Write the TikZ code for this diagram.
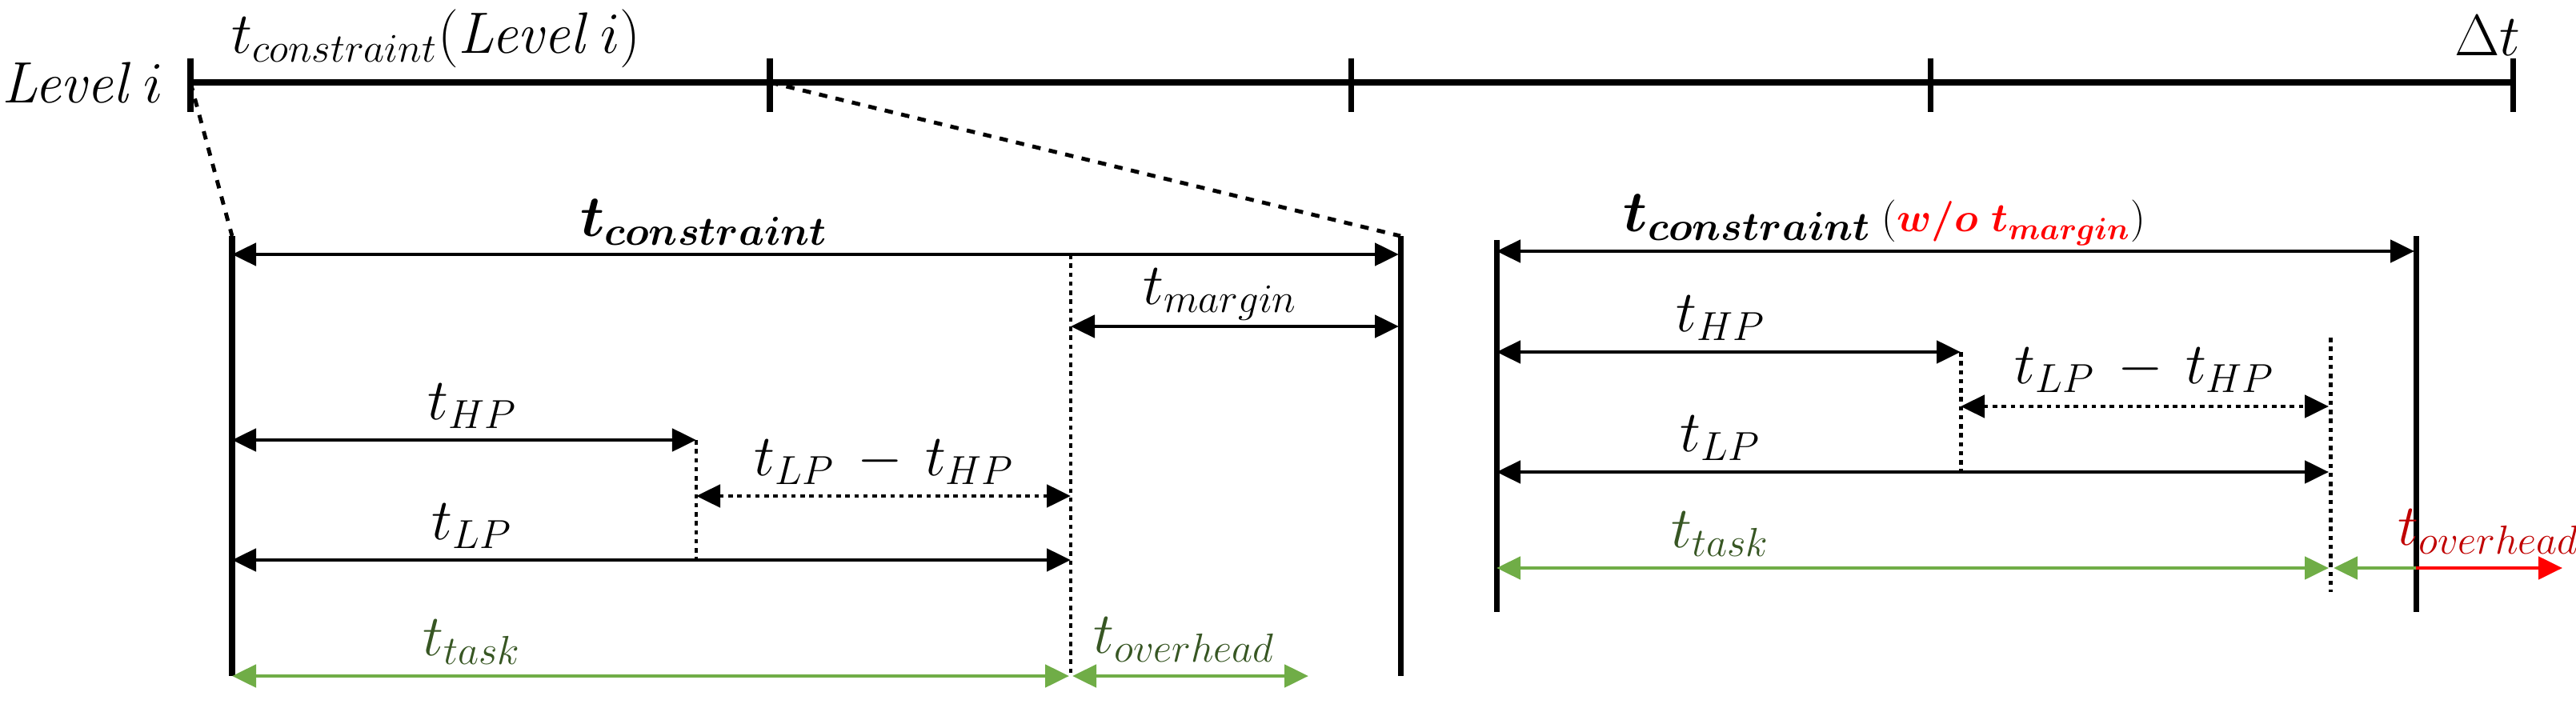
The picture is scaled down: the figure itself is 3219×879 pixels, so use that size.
\documentclass[tikz,border=0pt]{standalone}
\usepackage{amsmath,bm}
\usetikzlibrary{arrows.meta}
\definecolor{gr}{HTML}{70AD47}
\definecolor{dgr}{HTML}{375623}
\definecolor{dred}{HTML}{C00000}
\begin{document}
\begin{tikzpicture}[x=0.01cm,y=-0.01cm,
  bar/.style={line width=2pt},
  arr/.style={line width=1.4pt,{Triangle[length=0.3cm,width=0.28cm]}-{Triangle[length=0.3cm,width=0.28cm]}},
  rarr/.style={line width=1.4pt,-{Triangle[length=0.3cm,width=0.28cm]}},
  dot/.style={line width=1.4pt,dash pattern=on 1.6pt off 1.6pt},
  lbl/.style={font=\fontsize{22}{26}\selectfont},
  every node/.style={inner sep=0pt}]
\useasboundingbox (0,0) rectangle (3219,879);
% top timeline
\coordinate (t0) at (238,103); \coordinate (t1) at (962,103);
\coordinate (t2) at (1688,103); \coordinate (t3) at (2412,103);
\coordinate (t4) at (3140,103);
\draw[bar] (t0) -- (t4);
\foreach \x in {238,962,1688,2412,3140} \draw[bar] (\x,73) -- (\x,140);
\node[font=\fontsize{20}{24}\selectfont] (lv) at (103,103) {$\mathit{Level}\,i$};
\node[lbl] (tc) at (545,48) {$t_{constraint}(\mathit{Level}\,i)$};
\node[lbl,anchor=east] (dt) at (3150,45) {$\Delta t$};
% left group
\coordinate (La) at (290,295); \coordinate (Lab) at (290,845);
\coordinate (Lb) at (1750,295); \coordinate (Lbb) at (1750,845);
\draw[line width=1.4pt,dashed] (t0) -- (La);
\draw[line width=1.4pt,dashed] (t1) -- (Lb);
\draw[bar] (La) -- (Lab);
\draw[bar] (Lb) -- (Lbb);
\coordinate (Lm) at (1338,318); \coordinate (Lmb) at (1338,845);
\draw[dot] (Lm) -- (Lmb);
\coordinate (Lh) at (870,550); \coordinate (Lhb) at (870,700);
\draw[dot] (Lh) -- (Lhb);
\draw[arr] (290,318) -- (1748,318);
\node[lbl] (lc) at (880,278) {$\bm{t_{constraint}}$};
\draw[arr] (1338,408) -- (1748,408);
\node[lbl] (lm) at (1525,368) {$t_{margin}$};
\draw[arr] (290,550) -- (Lh);
\node[lbl] (lhp) at (590,508) {$t_{HP}$};
\draw[arr,dash pattern=on 1.6pt off 1.6pt] (870,620) -- (1338,620);
\node[lbl] (llh) at (1105,578) {$t_{LP}\,-\,t_{HP}$};
\draw[arr] (290,700) -- (1338,700);
\node[lbl] (llp) at (590,658) {$t_{LP}$};
\draw[arr,gr] (290,845) -- (1336,845);
\node[lbl,text=dgr] (lt) at (590,803) {$t_{task}$};
\draw[arr,gr] (1340,845) -- (1635,845);
\node[lbl,text=dgr] (lo) at (1480,800) {$t_{overhead}$};
% right group
\coordinate (Ra) at (1870,300); \coordinate (Rab) at (1870,765);
\draw[bar] (Ra) -- (Rab);
\draw[bar] (3019,295) -- (3019,765);
\draw[arr] (1870,314) -- (3017,314);
\node[lbl] (rc) at (2355,275) {$\bm{t_{constraint}}$\,{\fontsize{15}{18}\selectfont(\textcolor{red}{$\bm{w/o\ t_{margin}}$})}};
\coordinate (Rh) at (2450,440); \coordinate (Rhb) at (2450,590);
\draw[dot] (Rh) -- (Rhb);
\coordinate (Rl) at (2912,422); \coordinate (Rlb) at (2912,740);
\draw[dot] (Rl) -- (Rlb);
\draw[arr] (1870,440) -- (2450,440);
\node[lbl] (rhp) at (2150,398) {$t_{HP}$};
\draw[arr,dash pattern=on 1.6pt off 1.6pt] (2450,508) -- (2910,508);
\node[lbl] (rlh) at (2680,463) {$t_{LP}\,-\,t_{HP}$};
\draw[arr] (1870,590) -- (2910,590);
\node[lbl] (rlp) at (2150,548) {$t_{LP}$};
\draw[arr,gr] (1870,710) -- (2910,710);
\node[lbl,text=dgr] (rt) at (2150,668) {$t_{task}$};
\draw[line width=1.4pt,gr,{Triangle[length=0.3cm,width=0.28cm]}-] (2916,710) -- (3019,710);
\draw[rarr,red] (3019,710) -- (3202,710);
\node[lbl,text=dred] (ro) at (3110,665) {$t_{overhead}$};
\end{tikzpicture}
\end{document}
